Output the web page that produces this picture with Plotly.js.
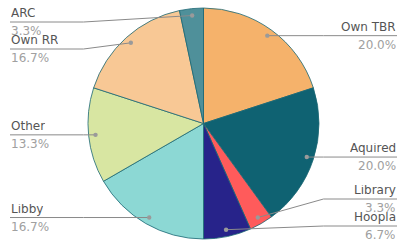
<!DOCTYPE html>
<html>
<head>
<meta charset="utf-8">
<script src="https://cdn.plot.ly/plotly-3.0.1.min.js"></script>
<style>html,body{margin:0;padding:0;background:#fff}#chart{width:408px;height:249px}</style>
</head>
<body>
<div id="chart"></div>
<script>
// Data
const categories = ["Own TBR", "Aquired", "Library", "Hoopla", "Libby", "Other", "Own RR", "ARC"];
const counts = [6, 6, 1, 2, 5, 4, 5, 1];
const colors = ["#F5B26B", "#0F6272", "#FF5B5B", "#27238A", "#8CD8D4", "#D8E6A2", "#F8C895", "#4F909A"];

// Geometry (pixels)
const W = 408, H = 249;
const cx = 203.5, cy = 123.5, R = 115.5;
const dotR = 0.94 * R;
const kneeOff = R + 4.5;
const leftX = 10, rightX = 397;
const minY = 22, maxY = 226, gap = 27;

const px = x => x / W;
const py = y => 1 - y / H;

const total = counts.reduce((a, b) => a + b, 0);
let cum = 0;
const items = counts.map((v, i) => {
  const mid = (cum + v / 2) / total * 2 * Math.PI;
  cum += v;
  const dx = cx + dotR * Math.sin(mid), dy = cy - dotR * Math.cos(mid);
  return {i, name: categories[i], pct: (v / total * 100).toFixed(1) + "%", dx, dy, right: mid < Math.PI, ly: dy};
});

function placeSide(list) {
  list.sort((a, b) => a.dy - b.dy);
  let prev = -Infinity;
  list.forEach(it => { it.ly = Math.max(it.dy, prev + gap, minY); prev = it.ly; });
  let next = Infinity;
  for (let k = list.length - 1; k >= 0; k--) {
    list[k].ly = Math.min(list[k].ly, next - gap, maxY);
    next = list[k].ly;
  }
}
placeSide(items.filter(it => it.right));
placeSide(items.filter(it => !it.right));

const shapes = [], annotations = [];
items.forEach(it => {
  const ex = it.right ? rightX : leftX;
  const kx = it.right ? cx + kneeOff : cx - kneeOff;
  shapes.push({
    type: "path", xref: "paper", yref: "paper",
    path: `M ${px(ex)} ${py(it.ly)} L ${px(kx)} ${py(it.ly)} L ${px(it.dx)} ${py(it.dy)}`,
    line: {color: "#8a8a8a", width: 1}
  });
  const r = 2.2;
  shapes.push({
    type: "circle", xref: "paper", yref: "paper",
    x0: px(it.dx - r), x1: px(it.dx + r), y0: py(it.dy + r), y1: py(it.dy - r),
    fillcolor: "#9a9a9a", line: {width: 0}
  });
  annotations.push({
    xref: "paper", yref: "paper", x: px(ex), y: py(it.ly - 1),
    xanchor: it.right ? "right" : "left", yanchor: "bottom",
    height: 12, valign: "bottom",
    text: it.name, showarrow: false, borderpad: 0,
    font: {family: "DejaVu Sans", size: 12, color: "#555555"}
  });
  annotations.push({
    xref: "paper", yref: "paper", x: px(ex), y: py(it.ly + 1),
    xanchor: it.right ? "right" : "left", yanchor: "top",
    height: 12, valign: "top",
    text: it.pct, showarrow: false, borderpad: 0,
    font: {family: "DejaVu Sans", size: 12, color: "#a0a0a0"}
  });
});

const trace = {
  type: "pie",
  labels: categories,
  values: counts,
  sort: false,
  direction: "clockwise",
  rotation: 0,
  textinfo: "none",
  hoverinfo: "label+percent",
  marker: {colors: colors, line: {color: "#1b6773", width: 0.8}},
  domain: {x: [px(cx - R), px(cx + R)], y: [py(cy + R), py(cy - R)]},
  showlegend: false
};

Plotly.newPlot("chart", [trace], {
  width: W, height: H,
  margin: {l: 0, r: 0, t: 0, b: 0},
  paper_bgcolor: "#ffffff",
  showlegend: false,
  shapes: shapes,
  annotations: annotations
}, {displayModeBar: false, staticPlot: true});
</script>
</body>
</html>
